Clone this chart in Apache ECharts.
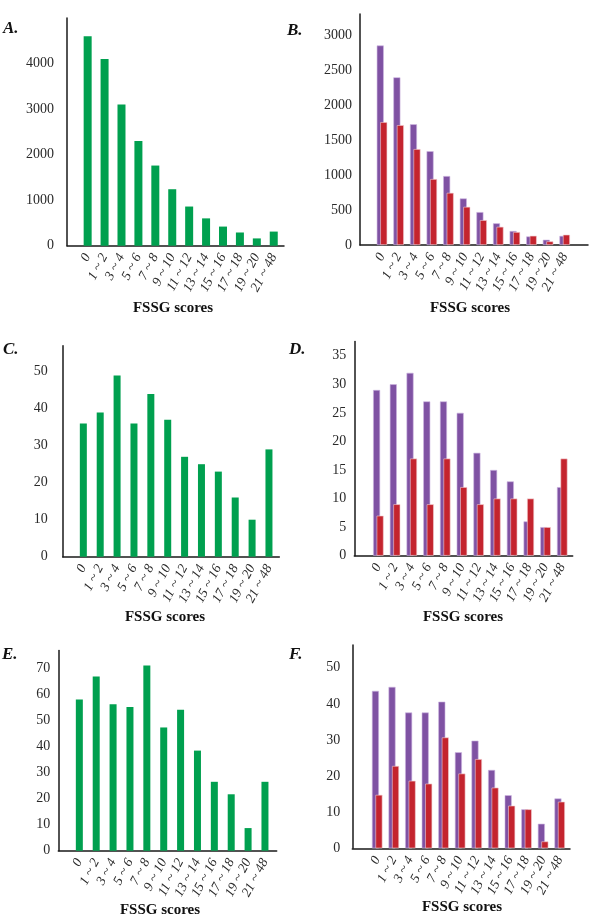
<!DOCTYPE html>
<html>
<head>
<meta charset="utf-8">
<script src="https://cdn.jsdelivr.net/npm/echarts@6/dist/echarts.min.js"></script>
<style>
html,body{margin:0;padding:0;background:#fff;}
#chart{width:600px;height:921px;}
</style>
</head>
<body>
<div id="chart"></div>
<script>
// ---- data ----
const categories = ['0','1 ~ 2','3 ~ 4','5 ~ 6','7 ~ 8','9 ~ 10','11 ~ 12','13 ~ 14','15 ~ 16','17 ~ 18','19 ~ 20','21 ~ 48'];
const panelLetters = ['A.','B.','C.','D.','E.','F.'];
const xTitle = 'FSSG scores';

const valuesA = [4600,4100,3100,2300,1760,1240,860,600,420,290,160,310];
const valuesBPurple = [2850,2395,1725,1340,985,665,470,310,200,122,75,130];
const valuesBRed = [1755,1712,1370,942,745,545,355,260,185,132,52,147];
const valuesC = [36,39,49,36,44,37,27,25,23,16,10,29];
const valuesDPurple = [29,30,32,27,27,25,18,15,13,6,5,12];
const valuesDRed = [7,9,17,9,17,12,9,10,10,10,5,17];
const valuesE = [58.2,67,56.3,55.3,71.2,47.4,54.2,38.5,26.5,21.7,8.7,26.5];
const valuesFPurple = [43.6,44.7,37.6,37.6,40.6,26.6,29.8,21.7,14.7,10.8,6.8,13.8];
const valuesFRed = [14.8,22.8,18.7,17.9,30.7,20.7,24.7,16.8,11.8,10.8,1.9,12.9];

// y axis tick settings (max of axis, tick interval)
const yMax = [5000, 3300, 57, 37.5, 77, 56.3];
const yInterval = [1000, 500, 10, 5, 10, 10];

// ---- styles / layout ----
const GREEN = '#00a04f', PURPLE = '#7f52a3', RED = '#c4242e';
const SERIF = '"Liberation Serif","Times New Roman",serif';

const layout = [
  {ax0:67, ax1:284, top:18, bottom:245.7, b0:79.2, b1:282.2, margin:13, bw:8,
   letter:[3,30], title:[173,308]},
  {ax0:360, ax1:588, top:14, bottom:245, b0:373.7, b1:573, margin:8, bw:7,
   letter:[287,32], title:[470,308]},
  {ax0:62.7, ax1:279.3, top:345.8, bottom:556.7, b0:74.9, b1:277.4, margin:15, bw:7,
   letter:[3,351], title:[165,617]},
  {ax0:354.3, ax1:572.7, top:341.4, bottom:555.7, b0:370, b1:570.6, margin:8, bw:7,
   letter:[289,351], title:[463,617]},
  {ax0:58.3, ax1:276.7, top:650.5, bottom:850.7, b0:70.9, b1:273.4, margin:8, bw:7,
   letter:[2,656], title:[160,910]},
  {ax0:352.3, ax1:570, top:645, bottom:848.3, b0:368.9, b1:568, margin:12, bw:7,
   letter:[289,656], title:[462,907]}
];

const panelSeries = [
  [{data:valuesA, color:GREEN}],
  [{data:valuesBPurple, color:PURPLE},{data:valuesBRed, color:RED}],
  [{data:valuesC, color:GREEN}],
  [{data:valuesDPurple, color:PURPLE},{data:valuesDRed, color:RED}],
  [{data:valuesE, color:GREEN}],
  [{data:valuesFPurple, color:PURPLE},{data:valuesFRed, color:RED}]
];

const grid = [], xAxis = [], yAxis = [], series = [], graphic = [];

layout.forEach((L, i) => {
  const H = 921;
  const frameIdx = grid.length;
  grid.push({left:L.ax0, width:L.ax1 - L.ax0, top:L.top, bottom:H - L.bottom, containLabel:false});
  const barIdx = grid.length;
  grid.push({left:L.b0, width:L.b1 - L.b0, top:L.top, bottom:H - L.bottom, containLabel:false});

  const max = yMax[i], itv = yInterval[i];
  // frame axes
  xAxis.push({type:'category', gridIndex:frameIdx, data:[''],
    axisLine:{show:true, lineStyle:{color:'#1a1a1a', width:1.5}},
    axisTick:{show:false}, axisLabel:{show:false}, splitLine:{show:false}});
  yAxis.push({type:'value', gridIndex:frameIdx, min:0, max:max, interval:itv,
    axisLine:{show:true, lineStyle:{color:'#1a1a1a', width:1.5}},
    axisTick:{show:false}, splitLine:{show:false},
    axisLabel:{margin:L.margin, fontFamily:SERIF, fontSize:14, color:'#2a2a2a',
      formatter: v => (v < max - 1e-9 ? String(v) : '')}});
  // bar axes
  const bx = xAxis.length;
  xAxis.push({type:'category', gridIndex:barIdx, data:categories,
    axisLine:{show:false}, axisTick:{show:false}, splitLine:{show:false},
    axisLabel:{interval:0, rotate:62, margin:9, fontFamily:SERIF, fontStyle:'italic',
      fontSize:13.5, color:'#2a2a2a'}});
  const by = yAxis.length;
  yAxis.push({type:'value', gridIndex:barIdx, min:0, max:max, show:false, splitLine:{show:false}});

  panelSeries[i].forEach((s) => {
    const isRed = s.color === RED;
    series.push({type:'bar', xAxisIndex:bx, yAxisIndex:by, data:s.data,
      barWidth:L.bw, barGap:'-50%', silent:true, animation:false,
      itemStyle:{color:s.color,
        borderColor: isRed ? '#f2cfd2' : (s.color === PURPLE ? '#cdb6e0' : s.color),
        borderWidth: s.color === GREEN ? 0 : 0.6}});
  });

  graphic.push({type:'text', left:L.letter[0], top:L.letter[1] - 10,
    style:{text:panelLetters[i], font:'italic bold 17px ' + SERIF, fill:'#111'}});
  graphic.push({type:'text', x:L.title[0], y:L.title[1],
    style:{text:xTitle, font:'bold 15px ' + SERIF, fill:'#111', align:'center', verticalAlign:'middle'}});
});

const chart = echarts.init(document.getElementById('chart'), null, {renderer:'canvas'});
chart.setOption({animation:false, backgroundColor:'#fff', grid, xAxis, yAxis, series, graphic});
</script>
</body>
</html>
